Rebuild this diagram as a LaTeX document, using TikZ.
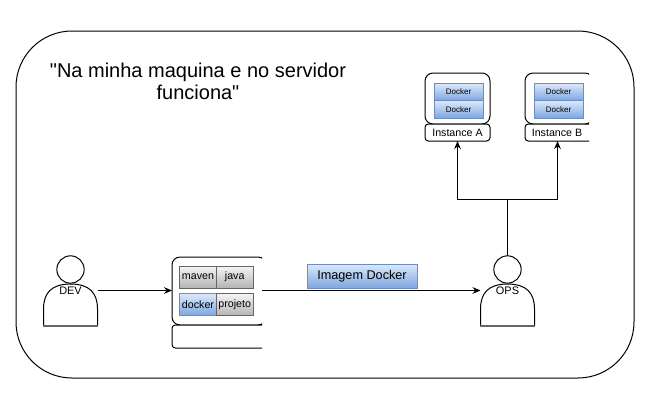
\documentclass[tikz,border=0pt]{standalone}
\usepackage{fontspec}
\setmainfont{Liberation Sans}[Ligatures=TeXOff]
\usetikzlibrary{
	arrows.meta,
	calc,
	positioning,
	}
\definecolor{blueline}{HTML}{6C8EBF}
\definecolor{bluetop}{HTML}{DAE8FC}
\definecolor{bluelow}{HTML}{7EA6E0}
\definecolor{greyline}{HTML}{666666}
\definecolor{greytop}{HTML}{F5F5F5}
\definecolor{greylow}{HTML}{B3B3B3}
\tikzset{
	line/.style={line width=0.75pt, black},
	flow/.style={line, -{Stealth[length=6pt,width=5pt]}},
	twoflow/.style={line, {Stealth[length=6pt,width=5pt]}-{Stealth[length=6pt,width=5pt]}},
	bluebox/.style={draw=blueline, top color=bluetop, bottom color=bluelow, inner sep=0pt, outer sep=0pt},
	greybox/.style={draw=greyline, top color=greytop, bottom color=greylow, inner sep=0pt, outer sep=0pt},
	hostbox/.style={line, draw, fill=white, rounded corners=6pt, inner sep=0pt, outer sep=0pt},
	tagbox/.style={line, draw, fill=white, rounded corners=2.5pt, inner sep=0pt, outer sep=0pt},
	dockersmall/.style={bluebox, minimum width=36.75pt, minimum height=13pt, font=\fontsize{6}{7}\selectfont},
	cell/.style={minimum width=27.5pt, minimum height=16.5pt, font=\fontsize{8}{10}\selectfont},
	personhead/.style={line, draw, fill=white, circle, minimum size=20.5pt, inner sep=0pt, outer sep=0pt},
	personname/.style={minimum width=40.5pt, inner sep=0pt, outer sep=0pt, font=\fontsize{8.2}{10}\selectfont},
}
% name, x, text
\newcommand{\personfig}[3]{
	\draw[line] ({#2-27},326) -- ({#2-27},309) .. controls ({#2-27},293) and ({#2-19},284) .. (#2,284)
		.. controls ({#2+19},284) and ({#2+27},293) .. ({#2+27},309) -- ({#2+27},326);
	\draw[line width=1.2pt, greyline] ({#2-27.5},326) -- ({#2+27.5},326);
	\node[personhead] (#1head) at (#2,269.5) {};
	\node[personname] (#1) at (#2,290.5) {#3};
}
\begin{document}
\begin{tikzpicture}[x=0.75pt, y=-0.75pt]
	\useasboundingbox (0,0) rectangle (657,401);

	\draw[line, rounded corners=42pt] (16,31) rectangle (634,378);

	\node[align=center, font=\fontsize{15}{16.5}\selectfont, inner sep=0pt] (quote) at (198,81) {"Na minha maquina e no servidor\\funciona"};

	% instances
	\node[hostbox, minimum width=48.75pt, minimum height=38.25pt] (hostA) at (457.5,98.5) {};
	\node[tagbox, minimum width=48.75pt, minimum height=12.75pt, font=\fontsize{8}{10}\selectfont] (instA) at (457.5,132.5) {Instance A};
	\node[dockersmall] (dockerA1) at (458.5,92) {Docker};
	\node[dockersmall, below=0pt of dockerA1] (dockerA2) {Docker};

	\begin{scope}
		\clip (520,60) rectangle (589,150);
		\node[hostbox, minimum width=51pt, minimum height=38.25pt] (hostB) at (559,98.5) {};
		\node[tagbox, minimum width=51pt, minimum height=12.75pt] (instB) at (559,132.5) {};
	\end{scope}
	\node[font=\fontsize{8}{10}\selectfont, inner sep=0pt] (instBname) at (557,132.5) {Instance B};
	\node[dockersmall] (dockerB1) at (558.5,92) {Docker};
	\node[dockersmall, below=0pt of dockerB1] (dockerB2) {Docker};
	\coordinate (instBin) at (557.5,141);

	% build machine
	\begin{scope}
		\clip (165,250) rectangle (262,355);
		\node[hostbox, minimum width=70.5pt, minimum height=51pt] (srv) at (219,291) {};
		\node[tagbox, minimum width=70.5pt, minimum height=17.25pt] (srvtag) at (219,336.5) {};
	\end{scope}
	\coordinate (srvout) at (262,290.5);
	\node[greybox, cell] (maven) at (198,277) {maven};
	\node[greybox, cell, right=0pt of maven] (java) {java};
	\node[bluebox, cell] (docker) at (198,304.5) {docker};
	\node[greybox, cell, right=0pt of docker] (projeto) {projeto};

	\node[bluebox, minimum width=82.5pt, minimum height=18pt, font=\fontsize{9.5}{11}\selectfont] (imagem) at (362,276) {Imagem Docker};

	\personfig{dev}{70.5}{DEV}
	\personfig{ops}{507.5}{OPS}

	\coordinate (fork) at (507.5,199.5);

	\draw[flow] (dev.east) -- (dev.east -| srv.west);
	\draw[flow] (srvout) -- (ops.west);
	\draw[line] (opshead.north) -- (fork);
	\draw[twoflow] (instA.south) |- (fork) -| (instBin);
\end{tikzpicture}
\end{document}
